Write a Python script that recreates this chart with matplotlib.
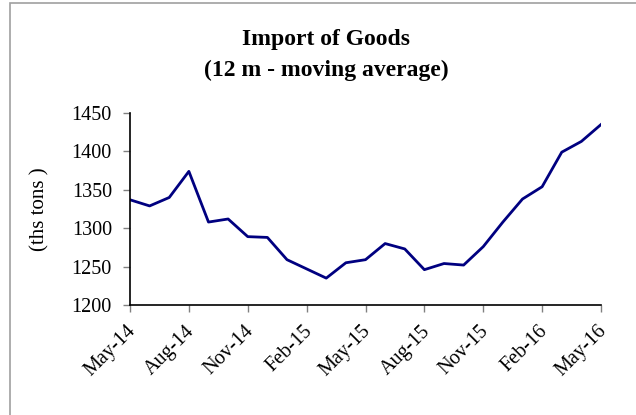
import matplotlib.pyplot as plt
import matplotlib.transforms as mtransforms
from matplotlib.patches import Rectangle

months = ["May-14", "Jun-14", "Jul-14", "Aug-14", "Sep-14", "Oct-14", "Nov-14",
          "Dec-14", "Jan-15", "Feb-15", "Mar-15", "Apr-15", "May-15", "Jun-15",
          "Jul-15", "Aug-15", "Sep-15", "Oct-15", "Nov-15", "Dec-15", "Jan-16",
          "Feb-16", "Mar-16", "Apr-16", "May-16"]
imports = [1337, 1329, 1340, 1374, 1308, 1312, 1289, 1288, 1259, 1247, 1235,
           1255, 1259, 1280, 1273, 1246, 1254, 1252, 1276, 1308, 1338, 1354,
           1399, 1413, 1435]
yticks = [1200, 1250, 1300, 1350, 1400, 1450]

plt.rcParams['font.family'] = ['Liberation Serif', 'DejaVu Serif']

fig = plt.figure(figsize=(6.36, 4.15), dpi=100)
fig.patches.append(Rectangle((10 / 636, -0.1), 1.2, 1.1 - 3 / 415,
                             transform=fig.transFigure, fill=False,
                             edgecolor='#a0a0a0', linewidth=1.2))

ax = fig.add_axes([130 / 636, 1 - 305 / 415, 471 / 636, 192 / 415])
x = list(range(len(months)))
ax.plot(x, imports, color='#000080', linewidth=2)

ax.set_xlim(0, len(months) - 1)
ax.set_ylim(1200, 1450)
ax.set_yticks(yticks)
ax.set_yticklabels([str(v) for v in yticks], fontsize=14.5)
ax.set_xticks(x[::3])
ax.set_xticklabels(months[::3], rotation=45, ha='right', rotation_mode='anchor',
                   fontsize=14.5)
ax.tick_params(axis='both', direction='out', length=5, width=1, color='#808080')
ax.tick_params(axis='y', pad=8)
ax.tick_params(axis='x', pad=7)
# nudge the slanted month labels a little to the left
shift = mtransforms.ScaledTranslation(-4 / 100, 0, fig.dpi_scale_trans)
for lbl in ax.get_xticklabels():
    lbl.set_transform(lbl.get_transform() + shift)
for s in ['top', 'right']:
    ax.spines[s].set_visible(False)
for s in ['left', 'bottom']:
    ax.spines[s].set_linewidth(1.2)
ax.set_ylabel("(ths tons )", fontsize=15, labelpad=16)

fig.text(326 / 636, 1 - 40 / 415, "Import of Goods", ha='center', va='center',
         fontsize=17, fontweight='bold')
fig.text(326 / 636, 1 - 70 / 415, "(12 m - moving average)", ha='center',
         va='center', fontsize=17, fontweight='bold')

fig.savefig('out.png', dpi=100)
